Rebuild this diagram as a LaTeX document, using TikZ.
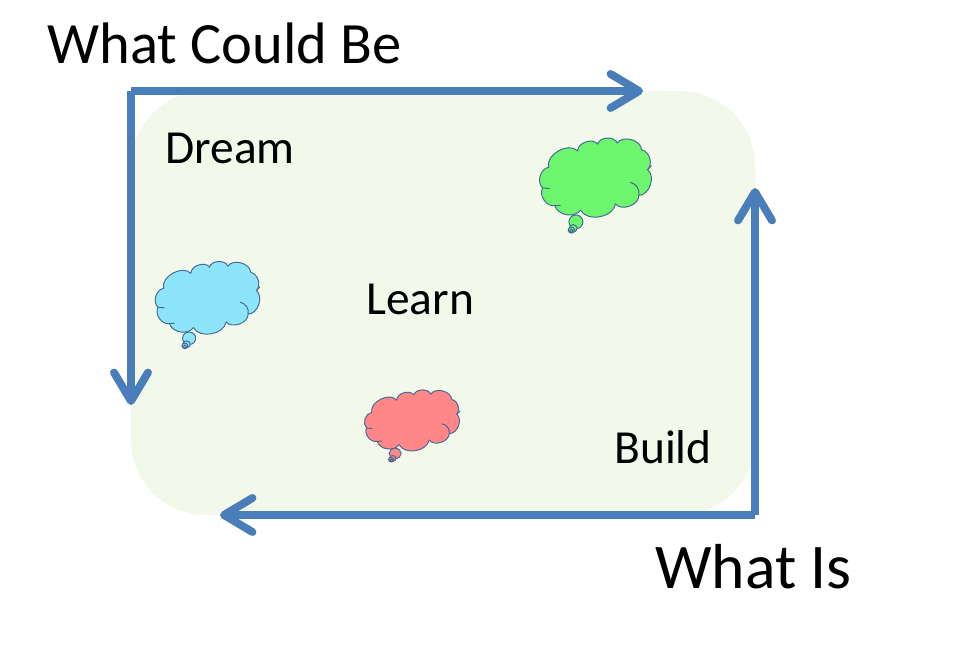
\documentclass[tikz,border=0pt]{standalone}
\usepackage{fontspec}
\setmainfont{Carlito}
\usetikzlibrary{arrows.meta}
\definecolor{panelgreen}{RGB}{242,249,235}
\definecolor{loopblue}{RGB}{74,126,187}
\definecolor{cloudline}{RGB}{70,105,150}
\definecolor{cloudgreen}{RGB}{110,245,110}
\definecolor{cloudblue}{RGB}{140,229,250}
\definecolor{cloudred}{RGB}{255,135,135}

% #1 position, #2 x scale, #3 y scale, #4 fill
\newcommand{\thoughtcloud}[4]{%
	\begin{scope}[shift={#1}, x=#2*0.02cm, y=-#3*0.02cm, cloudedge/.style={draw=cloudline, line width=0.55pt}]
		\path[fill=#4, cloudedge] (-56,122) circle[radius=20];
		\path[fill=#4, cloudedge] (-64,141) circle[radius=11];
		\path[fill=#4, cloudedge] (-69,146) circle[radius=9];
		\path[cloudedge] (-69,148) circle[radius=5];
		\path[fill=#4, cloudedge]
		(-134,-37) to[bend right=65] (-151,23)
		to[bend right=65] (-116,75) to[bend right=65] (-43,88)
		to[bend right=70] (57,70) to[bend right=70] (124,45)
		to[bend right=70] (149,-30) to[bend right=60] (132,-88)
		to[bend right=70] (62,-108) to[bend right=70] (6,-105)
		to[bend right=70] (-51,-85) to[bend right=75] (-134,-37) -- cycle;
		\path[cloudedge] (99,7) to[bend left=45] (124,45);
		\path[cloudedge] (-151,23) to[bend right=10] (-131,25);
		\path[cloudedge] (-116,75) to[bend right=10] (-100,74);
		\path[cloudedge] (149,-30) -- (160,-42);
	\end{scope}}

\begin{document}
\begin{tikzpicture}[
	x=0.02cm, y=-0.02cm,
	caption/.style={anchor=base west, inner sep=0pt},
	stage/.style={font=\fontsize{27}{32}\selectfont, anchor=base west, inner sep=0pt},
	panel/.style={fill=panelgreen, rounded corners=1.5cm},
	loop/.style={-{Straight Barb[length=0.57cm, width=0.68cm, line width=4.5pt, round]}, draw=loopblue, line width=4.5pt}
	]
	\useasboundingbox (0,0) rectangle (955,651);
	\fill[panel] (131,91) rectangle (755,515);
	
	\coordinate (topleft) at (131,91);
	\coordinate (topend) at (643,91);
	\coordinate (leftend) at (131,405);
	\coordinate (botright) at (755,515);
	\coordinate (botend) at (220,515);
	\coordinate (rightend) at (755,188);
	
	\draw[loop] (topleft) -- (topend);
	\draw[loop] (topleft) -- (leftend);
	\draw[loop] (botright) -- (botend);
	\draw[loop] (botright) -- (rightend);
	
	\thoughtcloud{(595.5,180)}{0.35}{0.343}{cloudgreen}
	\thoughtcloud{(207.5,300)}{0.328}{0.314}{cloudblue}
	\thoughtcloud{(412,422)}{0.301}{0.258}{cloudred}
	
	\node[caption, font=\fontsize{33.3}{40}\selectfont] (couldbe) at (47,64) {What Could Be};
	\node[caption, font=\fontsize{36.2}{43}\selectfont] (whatis) at (655,588) {What Is};
	\node[stage] (dream) at (165,164) {Dream};
	\node[stage] (learn) at (366,315) {Learn};
	\node[stage] (build) at (614,463) {Build};
\end{tikzpicture}
\end{document}
